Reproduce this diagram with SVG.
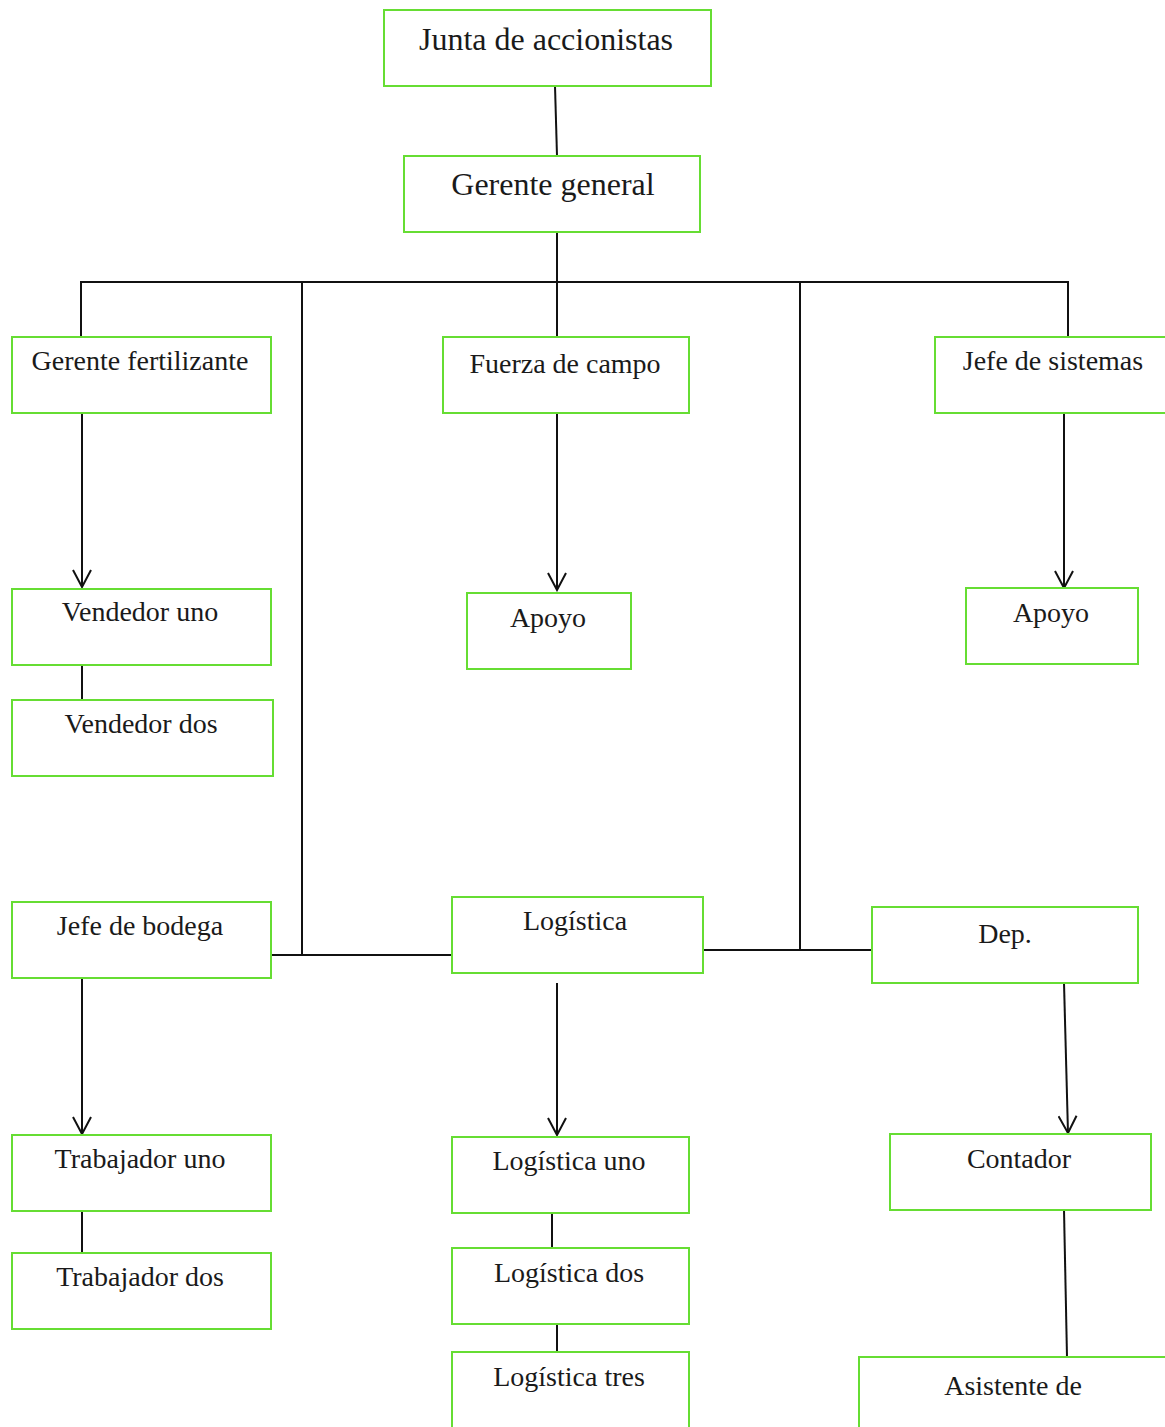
<svg xmlns="http://www.w3.org/2000/svg" width="1165" height="1427" viewBox="0 0 1165 1427">
<defs>
<style>
.box{fill:#ffffff;stroke:#66dd33;stroke-width:2}
.t{font-family:'Liberation Serif','Times New Roman','DejaVu Serif',serif;font-size:28px;fill:#1a1a1a;text-anchor:middle}
.big{font-size:32px}
.ln{stroke:#111;stroke-width:2;fill:none}
</style>
<marker id="arr" markerWidth="20" markerHeight="20" refX="18" refY="10" orient="auto" markerUnits="userSpaceOnUse" viewBox="0 0 20 20">
<polyline points="1,1 18,10 1,19" fill="none" stroke="#111" stroke-width="2"/>
</marker>
</defs>
<rect width="1165" height="1427" fill="#ffffff"/>
<g id="connectors">
<line class="ln" x1="555" y1="86" x2="557" y2="156"/>
<line class="ln" x1="557" y1="232" x2="557" y2="337"/>
<line class="ln" x1="81" y1="282" x2="1069" y2="282"/>
<line class="ln" x1="81" y1="281" x2="81" y2="337"/>
<line class="ln" x1="302" y1="281" x2="302" y2="956"/>
<line class="ln" x1="800" y1="281" x2="800" y2="951"/>
<line class="ln" x1="1068" y1="281" x2="1068" y2="337"/>
<line class="ln" x1="82" y1="413" x2="82" y2="587" marker-end="url(#arr)"/>
<line class="ln" x1="82" y1="665" x2="82" y2="700"/>
<line class="ln" x1="557" y1="413" x2="557" y2="590" marker-end="url(#arr)"/>
<line class="ln" x1="1064" y1="413" x2="1064" y2="588" marker-end="url(#arr)"/>
<line class="ln" x1="271" y1="955" x2="452" y2="955"/>
<line class="ln" x1="703" y1="950" x2="873" y2="950"/>
<line class="ln" x1="82" y1="978" x2="82" y2="1134" marker-end="url(#arr)"/>
<line class="ln" x1="82" y1="1211" x2="82" y2="1253"/>
<line class="ln" x1="557" y1="983" x2="557" y2="1135" marker-end="url(#arr)"/>
<line class="ln" x1="552" y1="1212" x2="552" y2="1249"/>
<line class="ln" x1="557" y1="1325" x2="557" y2="1352"/>
<line class="ln" x1="1064" y1="983" x2="1068" y2="1133" marker-end="url(#arr)"/>
<line class="ln" x1="1064" y1="1210" x2="1067" y2="1357"/>
</g>
<g font-family="'Liberation Serif','Times New Roman','DejaVu Serif',serif">
<g id="junta"><rect class="box" x="384" y="10" width="327" height="76"/><text class="t big" x="546" y="50">Junta de accionistas</text></g>
<g id="gerente-general"><rect class="box" x="404" y="156" width="296" height="76"/><text class="t big" x="553" y="195">Gerente general</text></g>
<g id="gerente-fertilizante"><rect class="box" x="12" y="337" width="259" height="76"/><text class="t" x="140" y="370">Gerente fertilizante</text></g>
<g id="fuerza-campo"><rect class="box" x="443" y="337" width="246" height="76"/><text class="t" x="565" y="373">Fuerza de campo</text></g>
<g id="jefe-sistemas"><rect class="box" x="935" y="337" width="240" height="76"/><text class="t" x="1053" y="370">Jefe de sistemas</text></g>
<g id="vendedor-uno"><rect class="box" x="12" y="589" width="259" height="76"/><text class="t" x="140" y="621">Vendedor uno</text></g>
<g id="vendedor-dos"><rect class="box" x="12" y="700" width="261" height="76"/><text class="t" x="141" y="733">Vendedor dos</text></g>
<g id="apoyo-1"><rect class="box" x="467" y="593" width="164" height="76"/><text class="t" x="548" y="627">Apoyo</text></g>
<g id="apoyo-2"><rect class="box" x="966" y="588" width="172" height="76"/><text class="t" x="1051" y="622">Apoyo</text></g>
<g id="jefe-bodega"><rect class="box" x="12" y="902" width="259" height="76"/><text class="t" x="140" y="935">Jefe de bodega</text></g>
<g id="logistica"><rect class="box" x="452" y="897" width="251" height="76"/><text class="t" x="575" y="930">Logística</text></g>
<g id="dep"><rect class="box" x="872" y="907" width="266" height="76"/><text class="t" x="1005" y="943">Dep.</text></g>
<g id="trabajador-uno"><rect class="box" x="12" y="1135" width="259" height="76"/><text class="t" x="140" y="1168">Trabajador uno</text></g>
<g id="trabajador-dos"><rect class="box" x="12" y="1253" width="259" height="76"/><text class="t" x="140" y="1286">Trabajador dos</text></g>
<g id="logistica-uno"><rect class="box" x="452" y="1137" width="237" height="76"/><text class="t" x="569" y="1170">Logística uno</text></g>
<g id="logistica-dos"><rect class="box" x="452" y="1248" width="237" height="76"/><text class="t" x="569" y="1282">Logística dos</text></g>
<g id="logistica-tres"><rect class="box" x="452" y="1352" width="237" height="80"/><text class="t" x="569" y="1386">Logística tres</text></g>
<g id="contador"><rect class="box" x="890" y="1134" width="261" height="76"/><text class="t" x="1019" y="1168">Contador</text></g>
<g id="asistente"><rect class="box" x="859" y="1357" width="316" height="80"/><text class="t" x="1013" y="1395">Asistente de</text></g>
</g>
</svg>
